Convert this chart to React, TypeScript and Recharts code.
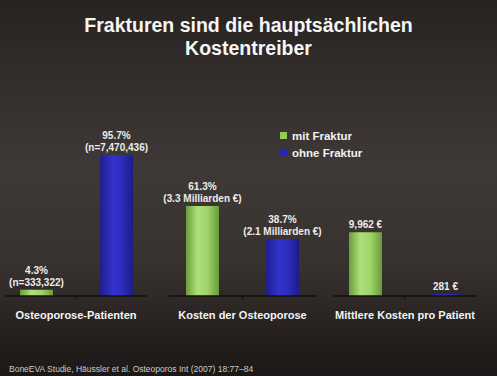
import { Bar, BarChart, LabelList, XAxis, YAxis } from "recharts";

const categories = [
  "Osteoporose-Patienten",
  "Kosten der Osteoporose",
  "Mittlere Kosten pro Patient",
];
const mitFraktur = [4.3, 61.3, 9962];
const ohneFraktur = [95.7, 38.7, 281];
const mitLabels = [["4.3%", "(n=333,322)"], ["61.3%", "(3.3 Milliarden €)"], ["9,962 €"]];
const ohneLabels = [["95.7%", "(n=7,470,436)"], ["38.7%", "(2.1 Milliarden €)"], ["281 €"]];
const seriesNames = ["mit Fraktur", "ohne Fraktur"];
const title = ["Frakturen sind die hauptsächlichen", "Kostentreiber"];
const source = "BoneEVA Studie, Häussler et al. Osteoporos Int (2007) 18:77–84";

// percent groups share a scale, the euro group has its own
const domains: [number, number][] = [[0, 100], [0, 100], [0, 23000]];
const groupLeft = [5, 169, 333];
const groupWidth = [142, 147, 144];

const FONT = '"Liberation Sans", Arial, sans-serif';

function makeLabel(lines: string[][], i: number) {
  return (props: any) => {
    const { x, y, width } = props;
    const ls = lines[i];
    const cx = x + width / 2;
    return (
      <text
        x={cx}
        y={y}
        textAnchor="middle"
        fill="#ececec"
        fontSize={10}
        fontWeight="bold"
        fontFamily={FONT}
      >
        {ls.map((t, k) => (
          <tspan key={k} x={cx} y={y - 4 - (ls.length - 1 - k) * 12}>
            {t}
          </tspan>
        ))}
      </text>
    );
  };
}

function CategoryTick(props: any) {
  const { x, y, payload } = props;
  return (
    <text
      x={x}
      y={y + 17}
      textAnchor="middle"
      fill="#f4f4f4"
      fontSize={11}
      fontWeight="bold"
      fontFamily={FONT}
    >
      {payload.value}
    </text>
  );
}

function Group({ i }: { i: number }) {
  const data = [{ name: categories[i], mit: mitFraktur[i], ohne: ohneFraktur[i] }];
  return (
    <div style={{ position: "absolute", left: groupLeft[i], top: 120 }}>
      <BarChart
        width={groupWidth[i]}
        height={206}
        data={data}
        margin={{ top: 29, right: 0, bottom: 0, left: 0 }}
        barSize={33}
        barGap={47}
      >
        <defs>
          <linearGradient id={`g${i}`} x1="0" y1="0" x2="1" y2="0">
            <stop offset="0%" stopColor="#6c9c3c" />
            <stop offset="35%" stopColor="#aee07a" />
            <stop offset="65%" stopColor="#9fd468" />
            <stop offset="100%" stopColor="#6a9a3c" />
          </linearGradient>
          <linearGradient id={`b${i}`} x1="0" y1="0" x2="1" y2="0">
            <stop offset="0%" stopColor="#1e1f8c" />
            <stop offset="40%" stopColor="#3333cc" />
            <stop offset="65%" stopColor="#2d2dc0" />
            <stop offset="100%" stopColor="#1c1c86" />
          </linearGradient>
        </defs>
        <XAxis
          dataKey="name"
          height={30}
          axisLine={{ stroke: "#141110", strokeWidth: 1.5 }}
          tickLine={{ stroke: "#141110" }}
          tickSize={4}
          interval={0}
          tick={<CategoryTick />}
        />
        <YAxis hide domain={domains[i]} />
        <Bar dataKey="mit" name={seriesNames[0]} fill={`url(#g${i})`} isAnimationActive={false}>
          <LabelList dataKey="mit" content={makeLabel(mitLabels, i)} />
        </Bar>
        <Bar dataKey="ohne" name={seriesNames[1]} fill={`url(#b${i})`} isAnimationActive={false}>
          <LabelList dataKey="ohne" content={makeLabel(ohneLabels, i)} />
        </Bar>
      </BarChart>
    </div>
  );
}

export default function App() {
  const legendColors = ["#8fcc55", "#2626b4"];
  return (
    <div
      style={{
        position: "absolute",
        left: 0,
        top: 0,
        width: 497,
        height: 376,
        overflow: "hidden",
        fontFamily: FONT,
        background:
          "linear-gradient(180deg, #272321 0%, #35302d 25%, #3e3936 45%, #38322f 70%, #26211f 88%, #1c1817 100%)",
      }}
    >
      <style>{`.recharts-surface { overflow: visible; } .recharts-wrapper { overflow: visible; }`}</style>
      <div
        style={{
          position: "absolute",
          top: 14,
          left: 0,
          width: 497,
          textAlign: "center",
          color: "#f6f6f6",
          fontWeight: "bold",
          fontSize: 19.5,
          lineHeight: "23px",
        }}
      >
        {title.map((t) => (
          <div key={t}>{t}</div>
        ))}
      </div>

      {categories.map((_, i) => (
        <Group key={i} i={i} />
      ))}

      <div style={{ position: "absolute", left: 280, top: 127 }}>
        {seriesNames.map((n, k) => (
          <div
            key={n}
            style={{
              display: "flex",
              alignItems: "center",
              height: 17,
              color: "#f2f2f2",
              fontWeight: "bold",
              fontSize: 11.5,
            }}
          >
            <span
              style={{
                display: "inline-block",
                width: 7,
                height: 7,
                background: legendColors[k],
                marginRight: 5,
              }}
            />
            {n}
          </div>
        ))}
      </div>

      <div
        style={{
          position: "absolute",
          left: 9,
          top: 364,
          fontSize: 8.5,
          color: "#cfcac6",
          whiteSpace: "nowrap",
        }}
      >
        {source}
      </div>
    </div>
  );
}
